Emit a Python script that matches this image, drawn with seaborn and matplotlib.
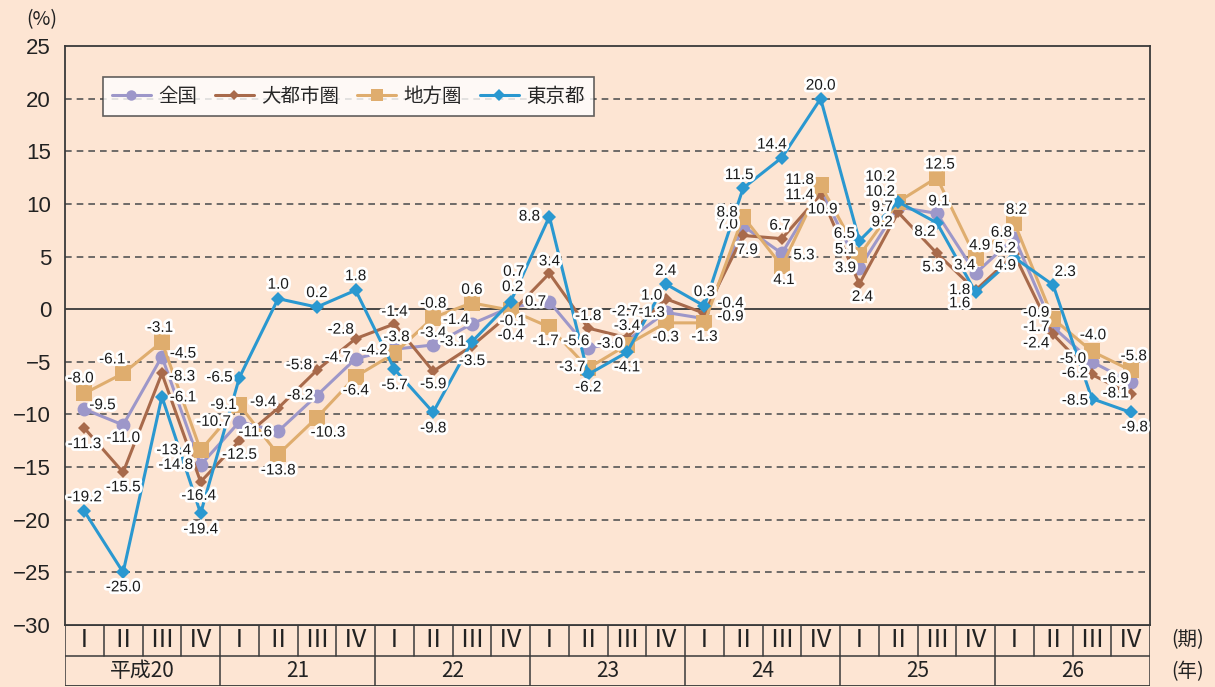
import matplotlib
matplotlib.use("Agg")
import matplotlib.pyplot as plt
import matplotlib.patheffects as pe
from matplotlib import font_manager
import seaborn as sns
import pandas as pd

# quarters: 平成20 I ... 平成26 IV
quarters = ["Ⅰ", "Ⅱ", "Ⅲ", "Ⅳ"]
years = ["平成20", "21", "22", "23", "24", "25", "26"]
series_names = ["全国", "大都市圏", "地方圏", "東京都"]

zenkoku = [-9.5, -11.0, -4.5, -14.8, -10.7, -11.6, -8.2, -4.7, -3.8, -3.4, -1.4, 0.2, 0.7, -3.7,
           -3.0, -0.3, -0.9, 7.9, 5.3, 11.4, 3.9, 9.7, 9.1, 3.4, 6.8, -1.7, -5.0, -6.9]
daitoshi = [-11.3, -15.5, -6.1, -16.4, -12.5, -9.4, -5.8, -2.8, -1.4, -5.9, -3.5, -0.4, 3.4, -1.8,
            -2.7, 1.0, -0.4, 7.0, 6.7, 10.9, 2.4, 9.2, 5.3, 1.8, 5.2, -2.4, -6.2, -8.1]
chiho = [-8.0, -6.1, -3.1, -13.4, -9.1, -13.8, -10.3, -6.4, -4.2, -0.8, 0.6, -0.1, -1.7, -5.6,
         -3.4, -1.3, -1.3, 8.8, 4.1, 11.8, 5.1, 10.2, 12.5, 4.9, 8.2, -0.9, -4.0, -5.8]
tokyo = [-19.2, -25.0, -8.3, -19.4, -6.5, 1.0, 0.2, 1.8, -5.7, -9.8, -3.1, 0.7, 8.8, -6.2,
         -4.1, 2.4, 0.3, 11.5, 14.4, 20.0, 6.5, 10.2, 8.2, 1.6, 4.9, 2.3, -8.5, -9.8]

# label offsets in pixels (dx, dy with dy downward)
off_zenkoku = [(18, -4), (0, 13), (21, -3), (-25, 0), (-26, 0), (-23, 1), (-17, 0), (-18, -1),
               (2, -12), (0, -12), (-16, -4), (2, -20), (-14, 0), (-16, 19), (-17, 3), (0, 25),
               (26, -2), (4, 24), (22, 2), (-21, 6), (-14, 0), (-16, 0), (2, -12), (-11, -8),
               (-13, -5), (-17, 0), (-19, -3), (-15, -3)]
off_daitoshi = [(0, 16), (0, 15), (21, 24), (-2, 14), (0, 14), (-15, -6), (-18, -5), (-15, -9),
                (0, -12), (0, 13), (0, 15), (0, 22), (0, -12), (0, -12), (-2, -26), (-14, -3),
                (26, -10), (-16, -11), (-2, -13), (2, 15), (3, 13), (-16, 10), (-4, 14), (-16, 0),
                (-9, -6), (-17, 9), (-17, -1), (-15, -1)]
off_chiho = [(-4, -15), (-11, -14), (-2, -14), (-27, 0), (-16, 0), (0, 16), (11, 15), (0, 14),
             (-20, -3), (0, -14), (0, -13), (2, 11), (-4, 14), (-12, -27), (0, -19), (-14, -10),
             (0, 14), (-16, -4), (2, 14), (-21, -5), (-14, -6), (-18, -10), (3, -13), (4, -12),
             (2, -13), (-17, -6), (1, -16), (3, -14)]
off_tokyo = [(0, -14), (0, 15), (20, -20), (0, 16), (-20, 0), (0, -14), (0, -14), (0, -14),
             (0, 16), (0, 16), (-19, 0), (3, -30), (-20, 0), (0, 13), (0, 15), (0, -13),
             (0, -14), (-4, -13), (-10, -13), (0, -13), (-15, -7), (-18, -25), (-12, 9), (-16, 11),
             (-9, 8), (12, -13), (-17, 2), (4, 15)]

bg = "#fde5d3"
dark = "#3a3a3a"
colors = {"全国": "#9d97c9", "大都市圏": "#a86a4b", "地方圏": "#dfad6e", "東京都": "#2a98d0"}
markers = {"全国": ("o", 10), "大都市圏": ("D", 6.5), "地方圏": ("s", 11), "東京都": ("D", 7.5)}

sns.set_style("white")
plt.rcParams["font.family"] = ["Liberation Sans", "Noto Sans CJK JP", "DejaVu Sans"]
cjk = ["Noto Sans CJK JP", "DejaVu Sans"]
available = {f.name for f in font_manager.fontManager.ttflist}
label_font = "Liberation Sans Narrow" if "Liberation Sans Narrow" in available else "Liberation Sans"
label_size = 13.5 if label_font == "Liberation Sans Narrow" else 11

n = len(tokyo)
df = pd.DataFrame({
    "q": list(range(n)) * 4,
    "value": zenkoku + daitoshi + chiho + tokyo,
    "series": [s for s in series_names for _ in range(n)],
})

fig = plt.figure(figsize=(12.15, 6.87), dpi=100)
fig.patch.set_facecolor(bg)
W, H = 1215, 687
ax = fig.add_axes([65 / W, 1 - 625 / H, 1085 / W, 579 / H])
ax.set_facecolor(bg)

for name in series_names:
    m, ms = markers[name]
    sns.lineplot(data=df[df["series"] == name], x="q", y="value", ax=ax, color=colors[name],
                 marker=m, markersize=ms, markeredgewidth=0, linewidth=2.2, label=name,
                 zorder=3)

ax.set_xlim(-0.5, n - 0.5)
ax.set_ylim(-30, 25)
ax.set_yticks(range(-30, 26, 5))
ax.set_xticks([])
ax.set_xlabel("")
ax.set_ylabel("")
ax.tick_params(axis="y", length=0, pad=10, labelsize=16, labelcolor="#222222")
for y in range(-25, 25, 5):
    if y == 0:
        ax.axhline(0, color=dark, lw=1.3, zorder=1)
    else:
        ax.axhline(y, color="#555555", lw=1.2, ls=(0, (4, 3)), zorder=1)
for s in ax.spines.values():
    s.set_color(dark)
    s.set_linewidth(1.3)

all_vals = {"全国": (zenkoku, off_zenkoku), "大都市圏": (daitoshi, off_daitoshi),
            "地方圏": (chiho, off_chiho), "東京都": (tokyo, off_tokyo)}
for name in series_names:
    vals, offs = all_vals[name]
    for i, (v, (dx, dy)) in enumerate(zip(vals, offs)):
        ax.annotate(f"{v:.1f}", (i, v), xytext=(dx, -dy), textcoords="offset pixels",
                    ha="center", va="center", fontsize=label_size, family=label_font,
                    color="#1a1a1a", zorder=6,
                    path_effects=[pe.withStroke(linewidth=4, foreground="white")])

leg = ax.legend(loc="upper left", bbox_to_anchor=(103 / W, 1 - 77 / H),
                bbox_transform=fig.transFigure, ncol=4, frameon=True, fancybox=False,
                prop={"family": cjk, "size": 14}, handlelength=2.0, handletextpad=0.4,
                columnspacing=0.9, borderpad=0.45, markerscale=0.75, borderaxespad=0)
leg.get_frame().set_edgecolor(dark)
leg.get_frame().set_linewidth(1.2)
leg.get_frame().set_facecolor("white")
leg.set_zorder(7)

# quarter / year table below the plot
tab = fig.add_axes([65 / W, 1 / H, 1085 / W, 61 / H])
tab.set_facecolor(bg)
tab.set_xlim(-0.5, n - 0.5)
tab.set_ylim(0, 2)
tab.axis("off")
tab.plot([-0.5, n - 0.5], [2, 2], color=dark, lw=1.3)
tab.plot([-0.5, n - 0.5], [1, 1], color=dark, lw=1.1)
tab.plot([-0.5, n - 0.5], [0, 0], color=dark, lw=1.3)
for k in range(n + 1):
    x = k - 0.5
    if k % 4 == 0:
        tab.plot([x, x], [0, 2], color=dark, lw=1.1)
    else:
        tab.plot([x, x], [1, 2], color=dark, lw=1.1)
for i in range(n):
    tab.text(i, 1.5, quarters[i % 4], ha="center", va="center", fontsize=18,
             family=cjk, color="#222222")
for j, yl in enumerate(years):
    tab.text(4 * j + 1.5, 0.5, yl, ha="center", va="center", fontsize=15,
             family=cjk, color="#222222")

fig.text(1188 / W, 1 - 640 / H, "(期)", ha="center", va="center", fontsize=14,
         family=cjk, color="#222222")
fig.text(1188 / W, 1 - 672 / H, "(年)", ha="center", va="center", fontsize=14,
         family=cjk, color="#222222")
fig.text(42 / W, 1 - 20 / H, "(%)", ha="center", va="center", fontsize=14,
         family=cjk, color="#222222")

fig.savefig("out.png", dpi=100, facecolor=bg)
